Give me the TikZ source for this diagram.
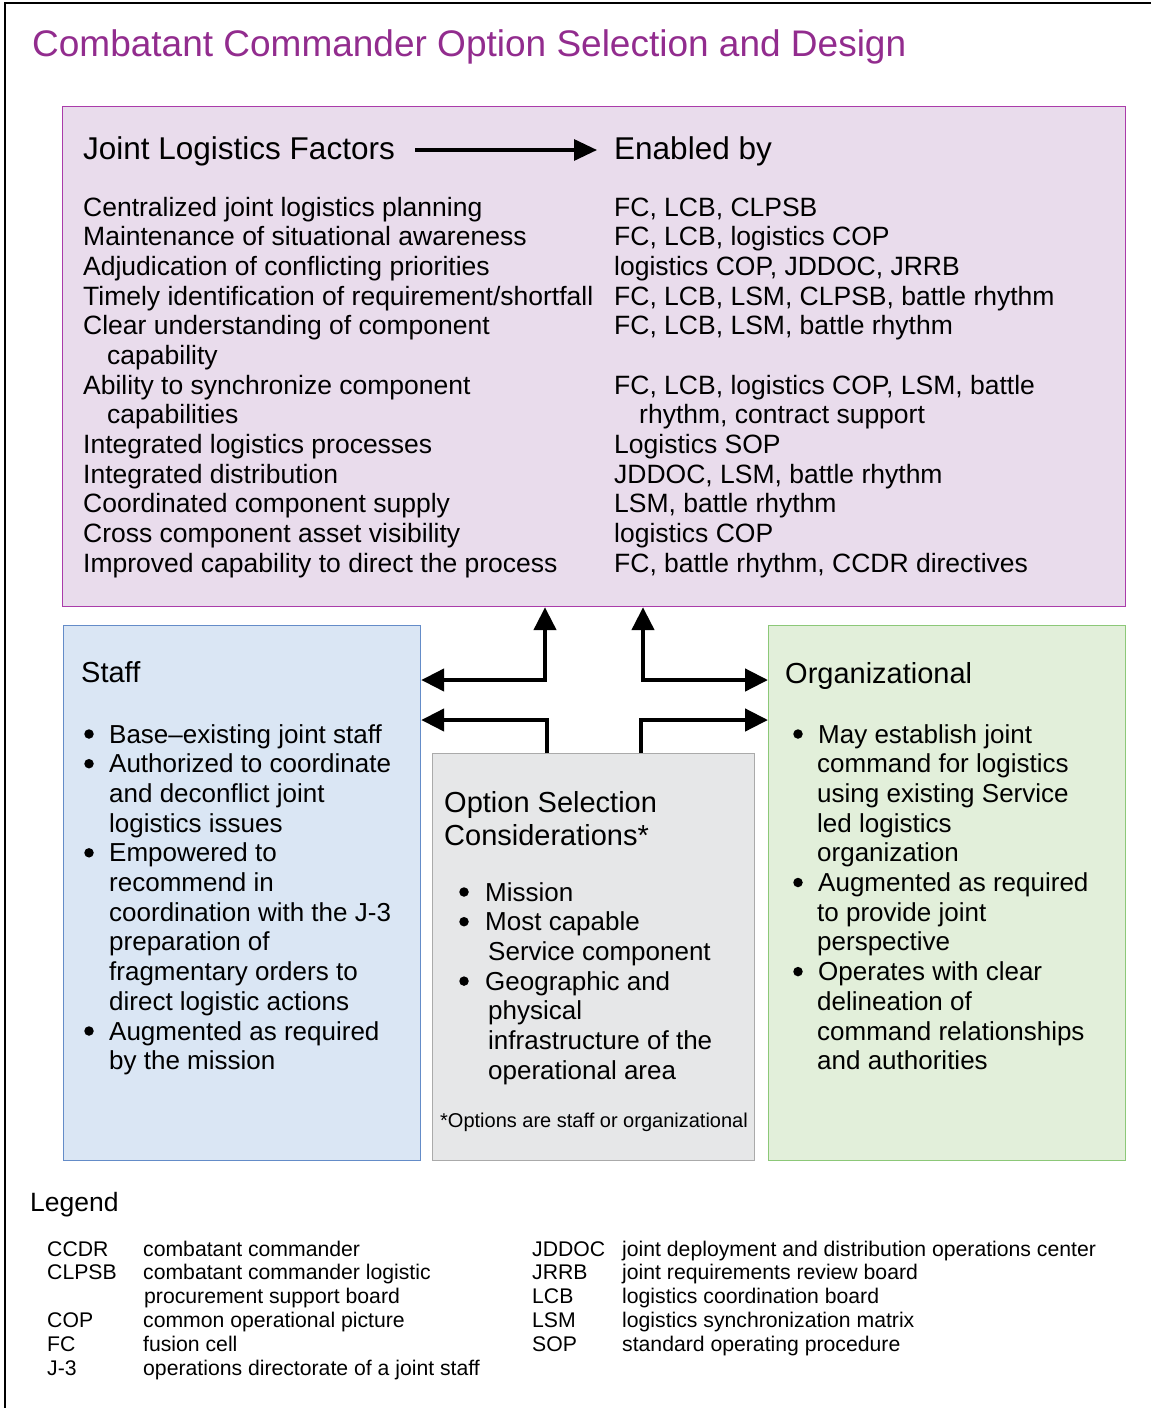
\documentclass[tikz,border=0pt]{standalone}
\usepackage{fontspec}
\setmainfont{Liberation Sans}
\usetikzlibrary{arrows.meta}
\definecolor{ttl}{RGB}{146,44,142}
\definecolor{pinkfill}{RGB}{233,220,236}
\definecolor{pinkline}{RGB}{170,60,170}
\definecolor{bluefill}{RGB}{218,230,244}
\definecolor{blueline}{RGB}{100,140,200}
\definecolor{grayfill}{RGB}{230,231,232}
\definecolor{grayline}{RGB}{170,170,170}
\definecolor{greenfill}{RGB}{226,239,218}
\definecolor{greenline}{RGB}{140,200,120}
\begin{document}
\begin{tikzpicture}[x=1pt,y=-1pt,
  panel/.style={draw,line width=1.2pt,rectangle,anchor=north west,inner sep=0pt},
  body/.style={font=\fontsize{26.5}{30}\selectfont,inner sep=0pt,anchor=base west},
  bul/.style={font=\fontsize{26}{30}\selectfont,inner sep=0pt,anchor=base west},
  dot/.style={circle,fill=black,inner sep=0pt,minimum size=9.5pt},
  head/.style={font=\fontsize{29}{33}\selectfont,inner sep=0pt,anchor=base west},
  leg/.style={font=\fontsize{21.2}{24}\selectfont,inner sep=0pt,anchor=base west},
  conn/.style={line width=4.5pt,-{Triangle[length=23pt,width=22pt]}},
  conn2/.style={line width=4.5pt,{Triangle[length=23pt,width=22pt]}-{Triangle[length=23pt,width=22pt]}}]
\useasboundingbox (0,0) rectangle (1151,1408);
\fill[white] (0,0) rectangle (1151,1408);
\draw[line width=2.5pt] (5,1408) -- (5,3) -- (1151,3);
\node[inner sep=0pt,anchor=base west,text=ttl,font=\fontsize{37}{42}\selectfont] (title) at (32,56) {Combatant Commander Option Selection and Design};

% panels
\node[panel,draw=pinkline,fill=pinkfill,minimum width=1063pt,minimum height=500pt] (pink) at (62,106) {};
\node[panel,draw=blueline,fill=bluefill,minimum width=357pt,minimum height=535pt] (blue) at (63,625) {};
\node[panel,draw=grayline,fill=grayfill,minimum width=322pt,minimum height=407pt] (gray) at (432,753) {};
\node[panel,draw=greenline,fill=greenfill,minimum width=357pt,minimum height=535pt] (green) at (768,625) {};

% pink header
\node[body,font=\fontsize{31.5}{35}\selectfont] (jlf) at (83,159) {Joint Logistics Factors};
\node[body,font=\fontsize{31.5}{35}\selectfont] (enb) at (614,159) {Enabled by};
\coordinate (ha) at (415,150);
\coordinate (hb) at (597,150);
\draw[line width=3.2pt,-{Triangle[length=23pt,width=21pt]}] (ha) -- (hb);
\foreach \i/\t in {1/{Centralized joint logistics planning},2/{Maintenance of situational awareness},3/{Adjudication of conflicting priorities},4/{Timely identification of requirement/shortfall},5/{Clear understanding of component},6/{\hspace*{24pt}capability},7/{Ability to synchronize component},8/{\hspace*{24pt}capabilities},9/{Integrated logistics processes},10/{Integrated distribution},11/{Coordinated component supply},12/{Cross component asset visibility},13/{Improved capability to direct the process}}
  \node[body] (fl\i) at (83,{216+(\i-1)*29.67}) {\t};
\foreach \i/\t in {1/{FC, LCB, CLPSB},2/{FC, LCB, logistics COP},3/{logistics COP, JDDOC, JRRB},4/{FC, LCB, LSM, CLPSB, battle rhythm},5/{FC, LCB, LSM, battle rhythm},7/{FC, LCB, logistics COP, LSM, battle},8/{\hspace*{25pt}rhythm, contract support},9/{Logistics SOP},10/{JDDOC, LSM, battle rhythm},11/{LSM, battle rhythm},12/{logistics COP},13/{FC, battle rhythm, CCDR directives}}
  \node[body] (fr\i) at (614,{216+(\i-1)*29.67}) {\t};

% staff
\node[head] (sh) at (81,682) {Staff};
\foreach \i/\t in {1/{Base–existing joint staff},2/{Authorized to coordinate},3/{and deconflict joint},4/{logistics issues},5/{Empowered to},6/{recommend in},7/{coordination with the J-3},8/{preparation of},9/{fragmentary orders to},10/{direct logistic actions},11/{Augmented as required},12/{by the mission}}
  \node[bul] (st\i) at (109,{743+(\i-1)*29.7}) {\t};
\foreach \i in {1,2,5,11}
  \node[dot] (sb\i) at (89,{734+(\i-1)*29.7}) {};

% option selection
\node[head] (oh1) at (444,812) {Option Selection};
\node[head] (oh2) at (444,845) {Considerations*};
\foreach \i/\t in {1/{Mission},2/{Most capable},3/{\hspace*{3pt}Service component},4/{Geographic and},5/{\hspace*{3pt}physical},6/{\hspace*{3pt}infrastructure of the},7/{\hspace*{3pt}operational area}}
  \node[bul] (ot\i) at (485,{901+(\i-1)*29.7}) {\t};
\foreach \i in {1,2,4}
  \node[dot] (ob\i) at (464,{892+(\i-1)*29.7}) {};
\node[leg,font=\fontsize{20}{24}\selectfont] (onote) at (440,1127) {*Options are staff or organizational};

% organizational
\node[head] (gh) at (785,683) {Organizational};
\foreach \i/\t in {1/{\hspace*{1pt}May establish joint},2/{command for logistics},3/{using existing Service},4/{led logistics},5/{organization},6/{\hspace*{1pt}Augmented as required},7/{to provide joint},8/{perspective},9/{\hspace*{1pt}Operates with clear},10/{delineation of},11/{command relationships},12/{and authorities}}
  \node[bul] (gt\i) at (817,{743+(\i-1)*29.7}) {\t};
\foreach \i in {1,6,9}
  \node[dot] (gb\i) at (798,{734+(\i-1)*29.7}) {};

% connectors
\coordinate (jL) at (545,680);
\coordinate (jR) at (643,680);
\coordinate (gL) at (547,720);
\coordinate (gR) at (641,720);
\draw[conn2,line join=miter] (jL -| blue.east) -- (jL) -- (jL |- pink.south);
\draw[conn2,line join=miter] (jR |- pink.south) -- (jR) -- (jR -| green.west);
\draw[conn,line join=miter] (gL |- gray.north) -- (gL) -- (gL -| blue.east);
\draw[conn,line join=miter] (gR |- gray.north) -- (gR) -- (gR -| green.west);

% legend
\node[body,font=\fontsize{26.5}{30}\selectfont] (lg) at (30,1211) {Legend};
\foreach \i/\a/\t in {1/CCDR/{combatant commander},2/CLPSB/{combatant commander logistic},3/{}/{\hspace*{1pt}procurement support board},4/COP/{common operational picture},5/FC/{fusion cell},6/J-3/{operations directorate of a joint staff}}
  {\node[leg] (la\i) at (47,{1256+(\i-1)*23.8}) {\a};
   \node[leg] (ld\i) at (143,{1256+(\i-1)*23.8}) {\t};}
\foreach \i/\a/\t in {1/JDDOC/{joint deployment and distribution operations center},2/JRRB/{joint requirements review board},3/LCB/{logistics coordination board},4/LSM/{logistics synchronization matrix},5/SOP/{standard operating procedure}}
  {\node[leg] (ra\i) at (532,{1256+(\i-1)*23.8}) {\a};
   \node[leg] (rd\i) at (622,{1256+(\i-1)*23.8}) {\t};}
\end{tikzpicture}
\end{document}
